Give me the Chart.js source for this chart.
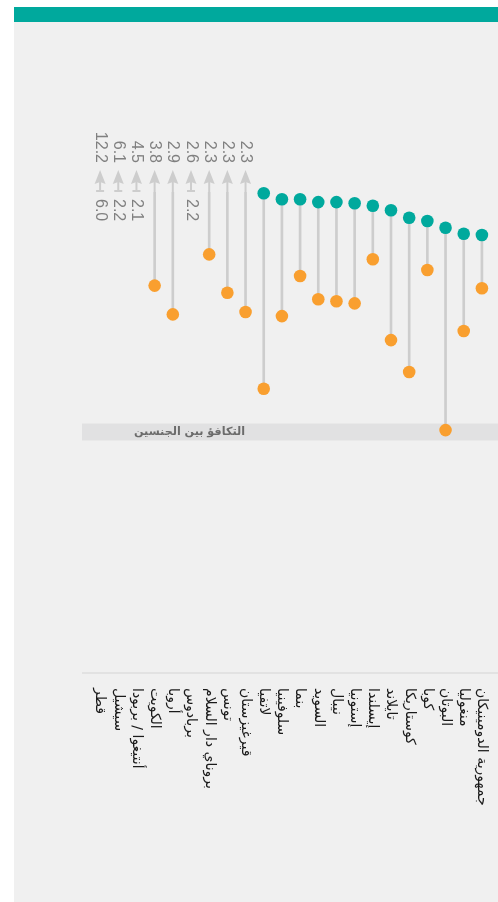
<!DOCTYPE html>
<html lang="ar">
<head>
<meta charset="utf-8">
<script src="https://cdn.jsdelivr.net/npm/chart.js@4/dist/chart.umd.min.js"></script>
<style>
  html, body { margin: 0; padding: 0; background: #fff; }
  body { width: 498px; height: 902px; position: relative; overflow: hidden; }
  #topbar { position: absolute; left: 14px; top: 7px; width: 484px; height: 15px; background: #00a99d; }
  #panel { position: absolute; left: 14px; top: 22px; width: 484px; height: 880px; background: #f0f0f0; }
  #wrap { position: absolute; left: 0; top: 0; width: 498px; height: 902px; }
</style>
</head>
<body>
<div id="topbar"></div>
<div id="panel"></div>
<div id="wrap"><canvas id="chart"></canvas></div>
<script>
// Gender parity lollipop chart: two ratios per country, values above the axis max get an arrow.

const countries = [
  "قطر", "سيشيل", "أنتيغوا / بربودا", "الكويت", "أروبا", "بربادوس",
  "بروناي دار السلام", "تونس", "قيرغيزستان", "لاتفيا", "سلوفينيا", "بنما",
  "السويد", "نيبال", "إستونيا", "إيسلندا", "تايلاند", "كوستاريكا",
  "كوبا", "البوتان", "منغوليا", "جمهورية الدومينيكان",
];
const ratioHigh = [12.2, 6.1, 4.5, 3.8, 2.9, 2.6, 2.3, 2.3, 2.3, 1.995, 1.97, 1.97,
  1.958, 1.958, 1.953, 1.943, 1.924, 1.893, 1.879, 1.851, 1.826, 1.821];
const ratioLow = [6.0, 2.2, 2.1, 1.61, 1.49, 2.2, 1.74, 1.58, 1.50, 1.18, 1.483, 1.65,
  1.553, 1.545, 1.536, 1.72, 1.383, 1.25, 1.675, 1.008, 1.421, 1.599];
const parityValue = 1;
const parityLabel = "التكافؤ بين الجنسين";
const yMin = 0;
const yMax = 2;

const palette = {
  teal: "#00a99d",
  orange: "#f99f2f",
  stem: "#cdcdcd",
  band: "#e1e1e2",
  axis: "#e2e2e2",
  value: "#808080",
  label: "#1a1a1a",
  bandText: "#6b6b6b",
};

const onScale = (v) => (v <= yMax ? v : null);

function stemData() {
  return ratioHigh.map((h, i) => {
    const l = ratioLow[i];
    if (l > yMax) return null;
    return [l, Math.min(h, yMax)];
  });
}

function drawRotated(ctx, text, x, y, align) {
  ctx.save();
  ctx.translate(x, y);
  ctx.rotate(Math.PI / 2);
  ctx.textAlign = align;
  ctx.textBaseline = "middle";
  ctx.fillText(text, 0, 0);
  ctx.restore();
}

const decor = {
  id: "decor",
  beforeDatasetsDraw(chart) {
    const { ctx, chartArea, scales: { y } } = chart;
    const left = chartArea.left - 9;
    const right = chart.width;
    const py = y.getPixelForValue(parityValue);
    ctx.save();
    ctx.fillStyle = palette.band;
    ctx.fillRect(left, py - 8.5, right - left, 17);
    ctx.fillStyle = palette.bandText;
    ctx.font = 'bold 11.2px "DejaVu Sans", sans-serif';
    ctx.direction = "rtl";
    ctx.textAlign = "right";
    ctx.textBaseline = "middle";
    ctx.fillText(parityLabel, chartArea.left + 154, py);
    // category axis line
    const by = y.getPixelForValue(yMin) + 1;
    ctx.strokeStyle = palette.axis;
    ctx.lineWidth = 2;
    ctx.beginPath();
    ctx.moveTo(left, by);
    ctx.lineTo(right, by);
    ctx.stroke();
    ctx.restore();
  },
  afterDatasetsDraw(chart) {
    const { ctx, chartArea, scales: { x, y } } = chart;
    const top = chartArea.top;
    ctx.save();
    ratioHigh.forEach((v, i) => {
      if (v <= yMax) return;
      const px = x.getPixelForValue(i);
      const lowOff = ratioLow[i] > yMax;
      ctx.strokeStyle = palette.stem;
      ctx.fillStyle = palette.stem;
      ctx.lineWidth = 2;
      ctx.beginPath();
      ctx.moveTo(px, top);
      ctx.lineTo(px, top - 10);
      ctx.stroke();
      if (lowOff) {
        ctx.beginPath();
        ctx.moveTo(px - 4, top - 1);
        ctx.lineTo(px + 4, top - 1);
        ctx.stroke();
      }
      ctx.beginPath();
      ctx.moveTo(px, top - 22);
      ctx.lineTo(px + 5.5, top - 8);
      ctx.lineTo(px, top - 10);
      ctx.lineTo(px - 5.5, top - 8);
      ctx.closePath();
      ctx.fill();

      ctx.fillStyle = palette.value;
      ctx.font = '16px "Liberation Sans", Arial, sans-serif';
      drawRotated(ctx, v.toFixed(1), px, top - 29, "right");
      if (lowOff) drawRotated(ctx, ratioLow[i].toFixed(1), px, top + 7, "left");
    });

    // country labels, rotated clockwise below the axis
    ctx.fillStyle = palette.label;
    ctx.font = '14px "DejaVu Sans", sans-serif';
    ctx.direction = "rtl";
    const ly = y.getPixelForValue(yMin) + 16;
    countries.forEach((name, i) => {
      drawRotated(ctx, name, x.getPixelForValue(i), ly, "left");
    });
    ctx.restore();
  },
};

const chart = new Chart(document.getElementById("chart"), {
  type: "bar",
  data: {
    labels: countries,
    datasets: [
      {
        type: "line",
        label: "high",
        data: ratioHigh.map(onScale),
        showLine: false,
        pointRadius: 6.3,
        pointHoverRadius: 6.3,
        pointBorderWidth: 0,
        pointBackgroundColor: palette.teal,
        borderColor: palette.teal,
        clip: false,
        order: 0,
      },
      {
        type: "line",
        label: "low",
        data: ratioLow.map(onScale),
        showLine: false,
        pointRadius: 6.3,
        pointHoverRadius: 6.3,
        pointBorderWidth: 0,
        pointBackgroundColor: palette.orange,
        borderColor: palette.orange,
        clip: false,
        order: 1,
      },
      {
        type: "bar",
        label: "stem",
        data: stemData(),
        backgroundColor: palette.stem,
        barThickness: 2,
        order: 2,
      },
    ],
  },
  options: {
    animation: false,
    responsive: true,
    maintainAspectRatio: false,
    events: [],
    layout: { padding: { left: 91, right: 7, top: 192, bottom: 230 } },
    scales: {
      x: { type: "category", display: false, offset: true, grid: { display: false } },
      y: { display: false, min: yMin, max: yMax, grid: { display: false } },
    },
    plugins: { legend: { display: false }, tooltip: { enabled: false } },
  },
  plugins: [decor],
});
</script>
</body>
</html>
